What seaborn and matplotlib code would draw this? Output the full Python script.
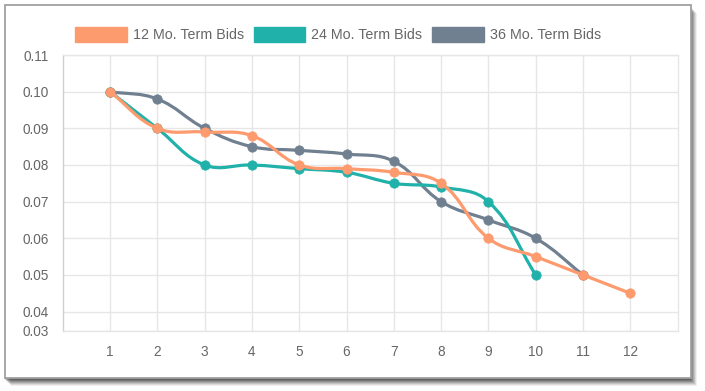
import numpy as np
import pandas as pd
import matplotlib
matplotlib.use("Agg")
import matplotlib.pyplot as plt
import seaborn as sns
from matplotlib.path import Path
from matplotlib.patches import PathPatch, Rectangle

# ---------------- data ----------------
months = list(range(1, 13))
bids_12 = [0.100, 0.090, 0.089, 0.088, 0.080, 0.079, 0.078, 0.075, 0.060, 0.055, 0.050, 0.045]
bids_24 = [0.100, 0.090, 0.080, 0.080, 0.079, 0.078, 0.075, 0.074, 0.070, 0.050]
bids_36 = [0.100, 0.098, 0.090, 0.085, 0.084, 0.083, 0.081, 0.070, 0.065, 0.060, 0.050]
series_names = ["12 Mo. Term Bids", "24 Mo. Term Bids", "36 Mo. Term Bids"]
series_values = [bids_12, bids_24, bids_36]
colors = ["#FD9A6E", "#20B2AA", "#708090"]
y_ticks = [0.0348, 0.04, 0.05, 0.06, 0.07, 0.08, 0.09, 0.10, 0.11]
y_tick_labels = ["0.03", "0.04", "0.05", "0.06", "0.07", "0.08", "0.09", "0.10", "0.11"]
x_tick_labels = [str(m) for m in months]

# ---------------- style ----------------
sns.set_theme(style="white")
plt.rcParams["font.family"] = ["Liberation Sans", "DejaVu Sans"]
GRID = "#e6e6e6"
TEXT = "#666666"

W, H = 705, 391
fig = plt.figure(figsize=(W / 100, H / 100), dpi=100)
fig.patch.set_facecolor("white")

# outer card with shadow
fx0, fy0_img, fx1, fy1_img = 4.5, 4.5, 690.5, 378.0
for off, a in [(8, 0.06), (7, 0.09), (6, 0.11), (5, 0.13), (4, 0.15), (3, 0.17), (2, 0.19)]:
    fig.patches.append(Rectangle(((fx0 + off - 2) / W, 1 - (fy1_img + off) / H),
                                 (fx1 - fx0) / W, (fy1_img - fy0_img) / H,
                                 transform=fig.transFigure, facecolor="black",
                                 edgecolor="none", alpha=a, zorder=-3))
fig.patches.append(Rectangle((fx0 / W, 1 - fy1_img / H), (fx1 - fx0) / W, (fy1_img - fy0_img) / H,
                             transform=fig.transFigure, facecolor="white",
                             edgecolor="#a0a0a0", linewidth=1.3, zorder=-2))

# plot area
px0, px1, py_top, py_bot = 62.7, 677.7, 55.0, 330.7
ax = fig.add_axes([px0 / W, 1 - py_bot / H, (px1 - px0) / W, (py_bot - py_top) / H])
ax.patch.set_alpha(0)
ax.set_xlim(0, 13)
ax.set_ylim(y_ticks[0], y_ticks[-1])
ax.set_xticks(months)
ax.set_xticklabels(x_tick_labels)
ax.set_yticks(y_ticks)
ax.set_yticklabels(y_tick_labels)
ax.grid(True, color=GRID, linewidth=1)
ax.set_axisbelow(True)
for side in ["top", "right", "bottom"]:
    ax.spines[side].set_color(GRID)
    ax.spines[side].set_linewidth(1)
ax.spines["left"].set_color("#cfcfcf")
ax.spines["left"].set_linewidth(1)
ax.tick_params(axis="both", which="both", length=7.5, width=1, color=GRID,
               labelcolor=TEXT, labelsize=9.8)
ax.tick_params(axis="y", pad=2.5)
ax.tick_params(axis="x", pad=2.5)


def chartjs_path(xs, ys, t=0.4):
    pts = ax.transData.transform(np.column_stack([xs, ys]))
    n = len(pts)
    cp_prev, cp_next = [], []
    for i in range(n):
        prev = pts[i - 1] if i > 0 else pts[i]
        cur = pts[i]
        nxt = pts[i + 1] if i < n - 1 else pts[i]
        d01 = np.hypot(*(cur - prev))
        d12 = np.hypot(*(nxt - cur))
        tot = d01 + d12
        s01 = d01 / tot if tot else 0
        s12 = d12 / tot if tot else 0
        cp_prev.append(cur - t * s01 * (nxt - prev))
        cp_next.append(cur + t * s12 * (nxt - prev))
    verts = [pts[0]]
    codes = [Path.MOVETO]
    for i in range(n - 1):
        verts += [cp_next[i], cp_prev[i + 1], pts[i + 1]]
        codes += [Path.CURVE4] * 3
    return Path(ax.transData.inverted().transform(np.array(verts)), codes)


# draw datasets in reverse order so the first one is on top
for k, idx in enumerate([2, 1, 0]):
    vals = series_values[idx]
    xs = months[:len(vals)]
    df = pd.DataFrame({"month": xs, "bid": vals})
    patch = PathPatch(chartjs_path(xs, vals), facecolor="none", edgecolor=colors[idx],
                      linewidth=2.3, zorder=3 + 2 * k, capstyle="round", joinstyle="round")
    ax.add_patch(patch)
    sns.scatterplot(data=df, x="month", y="bid", ax=ax, color=colors[idx], s=46,
                    edgecolor=colors[idx], linewidth=0.5, zorder=4 + 2 * k, legend=False)
ax.set_xlabel("")
ax.set_ylabel("")
ax.set_xlim(0, 13)
ax.set_ylim(y_ticks[0], y_ticks[-1])

handles = [Rectangle((0, 0), 1, 1, facecolor=c, edgecolor=c) for c in colors]
fig.legend(handles, series_names, loc="center", bbox_to_anchor=(338 / W, 1 - 34.5 / H),
           ncol=3, frameon=False, fontsize=10.3, labelcolor=TEXT,
           handlelength=3.6, handleheight=1.33, handletextpad=0.42, columnspacing=0.7,
           borderaxespad=0)

fig.savefig("out.png", dpi=100, facecolor="white")
